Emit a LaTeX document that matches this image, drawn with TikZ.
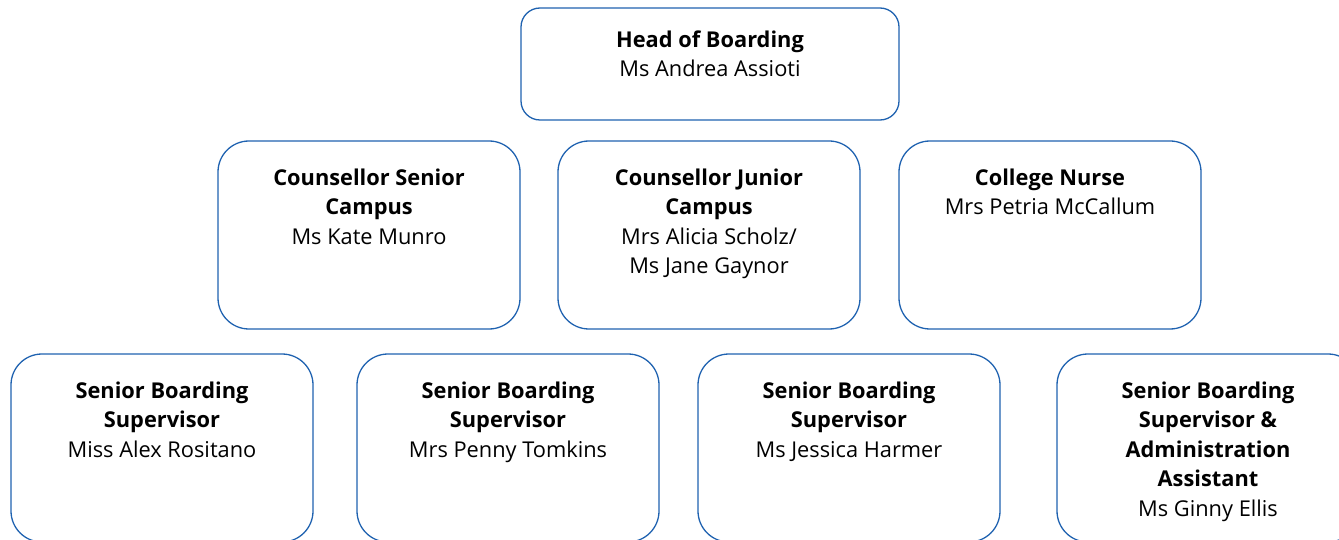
\documentclass[tikz,border=0pt]{standalone}
\usepackage{fontspec}
\setmainfont{Open Sans}
\usepackage{xcolor}
\usepackage{tikz}
\usetikzlibrary{shapes,positioning}
\definecolor{boxblue}{RGB}{31,98,176}
\tikzstyle{card} = [rectangle, draw=boxblue, line width=1.3pt, fill=white, outer sep=0pt,
    rounded corners=31pt, minimum width=302pt, minimum height=188pt, inner sep=0pt]
\tikzstyle{headcard} = [card, rounded corners=19pt, minimum width=378pt, minimum height=112pt]
\tikzstyle{caption} = [align=center, anchor=north, inner sep=0pt,
    font=\fontsize{21.8}{29.5}\selectfont]

\begin{document}
\begin{tikzpicture}[x=1pt, y=-1pt]
    \clip (0,0) rectangle (1339,540);
    \useasboundingbox (0,0) rectangle (1339,540);
    % Boxes
    \node [headcard] (head) at (710,64) {};
    \node [card] (counsenior) at (369,235) {};
    \node [card, right=38pt of counsenior] (counjunior) {};
    \node [card, right=39pt of counjunior] (nurse) {};
    \node [card] (super1) at (162,448) {};
    \node [card, right=44pt of super1] (super2) {};
    \node [card, right=39pt of super2] (super3) {};
    \node [card, right=57pt of super3] (super4) {};

    % Texts
    \node [caption] at ([yshift=-22.5pt]head.north) {\textbf{Head of Boarding}\\Ms Andrea Assioti};
    \node [caption] at ([yshift=-27.5pt]counsenior.north) {\textbf{Counsellor Senior}\\\textbf{Campus}\\Ms Kate Munro};
    \node [caption] at ([yshift=-27.5pt]counjunior.north) {\textbf{Counsellor Junior}\\\textbf{Campus}\\Mrs Alicia Scholz/\\Ms Jane Gaynor};
    \node [caption] at ([yshift=-27.5pt]nurse.north) {\textbf{College Nurse}\\Mrs Petria McCallum};
    \node [caption] at ([yshift=-27.5pt]super1.north) {\textbf{Senior Boarding}\\\textbf{Supervisor}\\Miss Alex Rositano};
    \node [caption] at ([yshift=-27.5pt]super2.north) {\textbf{Senior Boarding}\\\textbf{Supervisor}\\Mrs Penny Tomkins};
    \node [caption] at ([yshift=-27.5pt]super3.north) {\textbf{Senior Boarding}\\\textbf{Supervisor}\\Ms Jessica Harmer};
    \node [caption] at ([yshift=-27.5pt]super4.north) {\textbf{Senior Boarding}\\\textbf{Supervisor \&}\\\textbf{Administration}\\\textbf{Assistant}\\Ms Ginny Ellis};
\end{tikzpicture}
\end{document}
